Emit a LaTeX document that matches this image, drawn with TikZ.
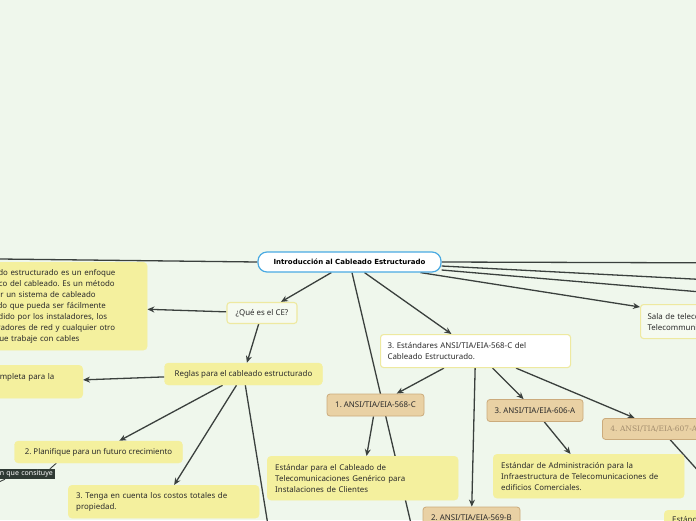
\documentclass[tikz,border=0pt]{standalone}
\usepackage{fontspec}
\setmainfont{Noto Sans}
\newfontfamily\rootfont{DejaVu Sans}
\newfontfamily\slabfont{DejaVu Serif}
\usetikzlibrary{arrows.meta}
\definecolor{Paper}{HTML}{EFF7EC}
\definecolor{Ink}{HTML}{2B2B2B}
\definecolor{Wire}{HTML}{3A403D}
\definecolor{Lemon}{HTML}{F4F09E}
\definecolor{LemonLine}{HTML}{EEE9A0}
\definecolor{Mist}{HTML}{F5FAF0}
\definecolor{Sand}{HTML}{E9D1A4}
\definecolor{SandLine}{HTML}{CBAB7C}
\definecolor{Sky}{HTML}{4AAAE2}
\definecolor{Slate}{HTML}{2F3A34}
\definecolor{Dust}{HTML}{A38D6E}
\newcommand\mapsize{\fontsize{7.9pt}{11pt}\selectfont}
\frenchspacing
\pgfdeclarelayer{back}
\pgfsetlayers{back,main}
\tikzset{
  root/.style={draw=Sky, fill=white, line width=1.2pt, rounded corners=9pt, font=\rootfont\bfseries\fontsize{7pt}{8pt}\selectfont, text=black, minimum width=183pt, minimum height=20pt, inner sep=0pt},
  topic/.style={draw=LemonLine, fill=#1, line width=1.1pt, rounded corners=3pt, font=\mapsize, text=Ink, inner xsep=7pt, inner ysep=0pt},
  topic/.default=Mist,
  idea/.style={draw=Lemon, fill=Lemon, rounded corners=4pt, font=\mapsize, text=Ink, inner xsep=8pt, inner ysep=0pt},
  std/.style={draw=SandLine, fill=Sand, line width=0.8pt, rounded corners=3pt, font=\mapsize, text=Ink, minimum width=97pt, minimum height=22pt, inner sep=0pt},
  note/.style={fill=Slate, text=white, font=\fontsize{7pt}{8pt}\selectfont, inner xsep=2pt, inner ysep=0pt, minimum height=10pt},
  arrow/.style={-{Stealth[length=7pt,width=6pt]}, line width=1.3pt, draw=Wire},
  wire/.style={line width=1.3pt, draw=Wire},
  leader/.style={line width=0.9pt, draw=Wire}
}
\begin{document}
\begin{tikzpicture}[x=1pt,y=-1pt]
  \useasboundingbox (0,0) rectangle (696,520);
  % central topic
  \node[root] (cen) at (349.5,262) {Introducción al Cableado Estructurado};

  % what is it + rules
  \node[topic, minimum width=70pt, minimum height=21pt] (que) at (262,313) {¿Qué es el CE?};
  \node[idea, anchor=north west, text width=174pt, minimum height=88pt, align=left] (defi) at (-43,262) {El cableado estructurado es un enfoque\\sistemático del cableado. Es un método\\para crear un sistema de cableado\\organizado que pueda ser fácilmente\\comprendido por los instaladores, los\\administradores de red y cualquier otro\\técnico que trabaje con cables};
  \node[idea, minimum width=158pt, minimum height=22pt] (reglas) at (243.5,374) {Reglas para el cableado estructurado};
  \node[idea, anchor=north east, text width=83.6pt, minimum height=33pt, align=left] (comp) at (83,365) {completa para la\\\mbox{}};
  \node[idea, minimum width=168pt, minimum height=22pt] (plan) at (98.5,452) {2. Planifique para un futuro crecimiento};
  \node[idea, anchor=north west, text width=175pt, minimum height=33pt, align=left] (tenga) at (68,485) {3. Tenga en cuenta los costos totales de\\propiedad.};
  \node[note, anchor=east, text width=68pt, align=right] (nota) at (55,474) {n que consituye};

  % standards
  \node[topic=white, anchor=north west, text width=176pt, minimum height=33pt, align=left] (est) at (380,334) {3. Estándares ANSI/TIA/EIA-568-C del\\Cableado Estructurado.};
  \node[std] (a568) at (375.5,405) {1. ANSI/TIA/EIA-568-C};
  \node[std] (a569) at (471.5,518) {2. ANSI/TIA/EIA-569-B};
  \node[std, minimum width=96pt] (a606) at (535,410.5) {3. ANSI/TIA/EIA-606-A};
  \node[std, anchor=north west, text width=100pt, inner xsep=8pt, align=left, minimum height=21pt, font=\slabfont\fontsize{7.5pt}{9pt}\selectfont, text=Dust] (a607) at (602,418) {4. ANSI/TIA/EIA-607-A};
  \node[idea, anchor=north west, text width=175pt, minimum height=44pt, align=left] (gen) at (267,456) {Estándar para el Cableado de\\Telecomunicaciones Genérico para\\Instalaciones de Clientes};
  \node[idea, anchor=north west, text width=175pt, minimum height=44pt, align=left] (adm) at (493,454) {Estándar de Administración para la\\Infraestructura de Telecomunicaciones de\\edificios Comerciales.};
  \node[idea, anchor=north west, text width=135pt, align=left, inner ysep=6pt] (est2) at (664,510) {Estándar};
  \node[topic, anchor=north west, text width=136pt, minimum height=34pt, align=left] (sala) at (640,304) {Sala de telecomunicaciones\\Telecommunications Room};

  % ends that leave the page
  \coordinate (offW) at (-60,258.3);
  \coordinate (offE1) at (760,263);
  \coordinate (offE2) at (760,282.5);
  \coordinate (offE3) at (760,297);
  \coordinate (offS) at (416,545);
  \coordinate (offR) at (272,550);
  \coordinate (off607) at (720,495);
  \coordinate (offN) at (-12,487);

  \begin{pgfonlayer}{back}
    \fill[Paper] (0,0) rectangle (696,520);
    \draw[wire] (cen.west) -- (offW);
    \draw[wire] (cen.east) -- (offE1);
    \draw[wire] ([yshift=-4pt]cen.east) -- (offE2);
    \draw[wire] ([yshift=-8pt]cen.east) -- (offE3);
    \draw[arrow] ([xshift=71pt]cen.south) -- ([yshift=-3pt]sala.north west);
    \draw[arrow] (cen) -- (que);
    \draw[wire] (cen) -- (offS);
    \draw[arrow] (cen) -- (est);

    \draw[arrow] (que) -- (defi);
    \draw[arrow] (que) -- (reglas);
    \draw[arrow] (reglas) -- (comp);
    \draw[arrow] (reglas) -- (plan);
    \draw[arrow] (reglas) -- (tenga);
    \draw[wire] (reglas) -- (offR);
    \draw[leader] ([xshift=42pt]plan.south west) -- ([xshift=-5pt]nota.north east);
    \draw[leader] ([xshift=-50pt]nota.south east) -- (offN);

    \draw[arrow] (est) -- (a568);
    \draw[arrow] (est) -- (a569);
    \draw[arrow] (est) -- (a606);
    \draw[arrow] (est) -- (a607);
    \draw[arrow] (a568) -- (gen);
    \draw[arrow] (a606) -- (adm);
    \draw[wire] (a607) -- (off607);
  \end{pgfonlayer}
\end{tikzpicture}
\end{document}
